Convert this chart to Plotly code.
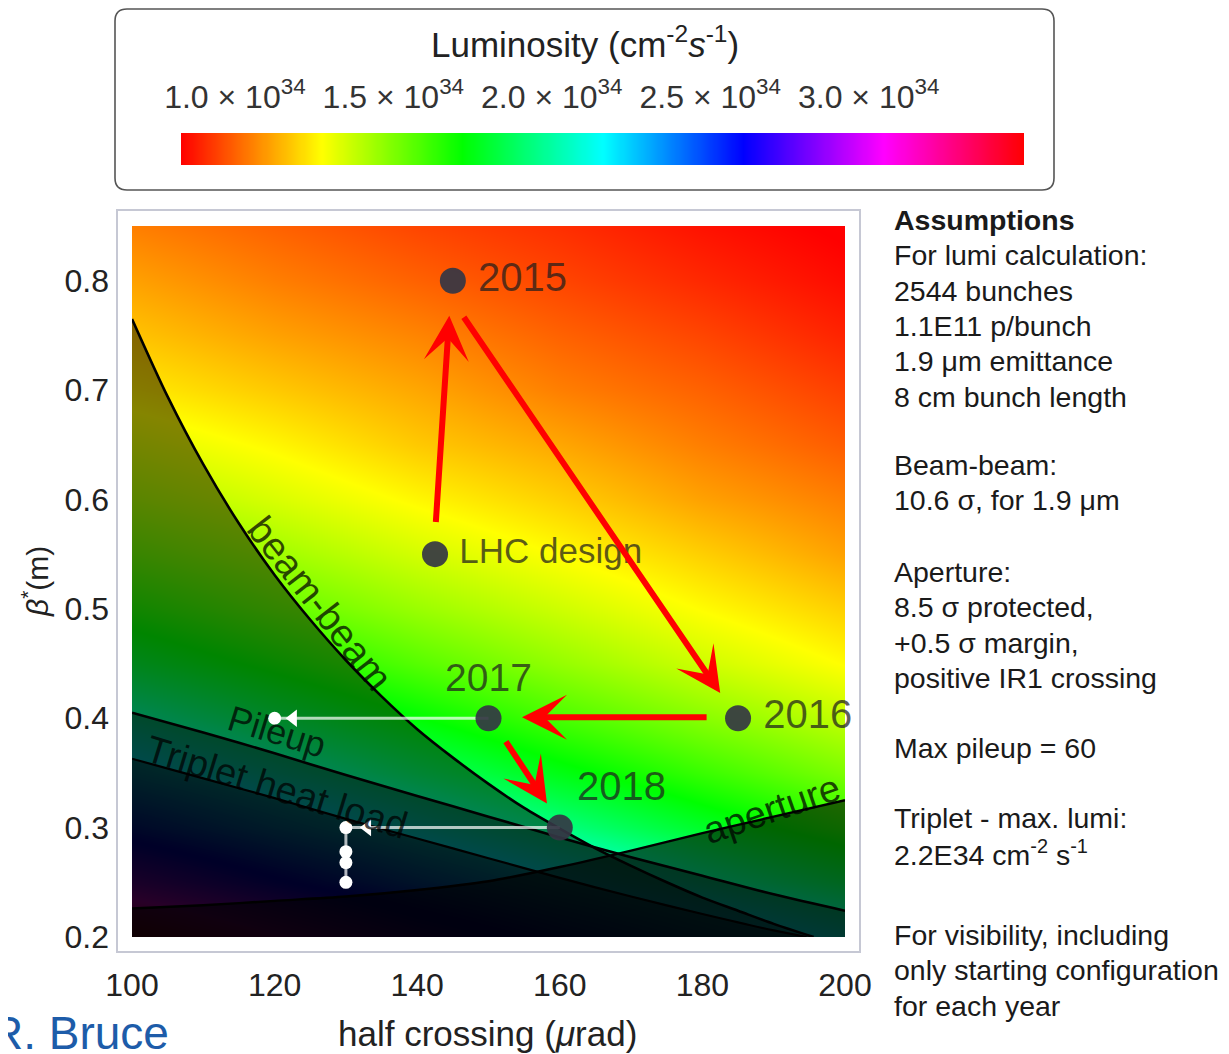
import numpy as np
import plotly.graph_objects as go

W, H = 1229, 1054
PAGE_OFFSET = 8  # the page adds an 8px body margin around the figure
FONT = "Liberation Sans, Arial, Helvetica, sans-serif"

# ------------------------------------------------------------------ data
half_crossing_grid = [100, 120, 140, 160, 180, 200]
beta_grid = [0.20, 0.25, 0.30, 0.35, 0.40, 0.45, 0.50, 0.55, 0.60, 0.65, 0.70, 0.75, 0.80, 0.85]
# luminosity in units of 1e34 cm^-2 s^-1 (rows: beta*, columns: half crossing)
lumi_grid = [
    [3.41, 3.07, 2.77, 2.52, 2.30, 2.11],
    [2.89, 2.63, 2.39, 2.18, 2.00, 1.85],
    [2.51, 2.30, 2.11, 1.94, 1.79, 1.65],
    [2.22, 2.05, 1.89, 1.75, 1.62, 1.50],
    [2.00, 1.85, 1.72, 1.59, 1.48, 1.38],
    [1.81, 1.69, 1.57, 1.46, 1.36, 1.27],
    [1.66, 1.55, 1.45, 1.36, 1.27, 1.19],
    [1.53, 1.44, 1.35, 1.27, 1.19, 1.11],
    [1.42, 1.34, 1.26, 1.19, 1.11, 1.05],
    [1.33, 1.26, 1.18, 1.12, 1.05, 0.99],
    [1.24, 1.18, 1.12, 1.05, 1.00, 0.94],
    [1.17, 1.11, 1.06, 1.00, 0.95, 0.89],
    [1.11, 1.05, 1.00, 0.95, 0.90, 0.85],
    [1.05, 1.00, 0.95, 0.91, 0.86, 0.82],
]
lumi_range = [0.83, 3.49]
lumi_tickvals = [1.0, 1.5, 2.0, 2.5, 3.0]
lumi_ticktext = ["1.0 × 10<sup>34</sup>", "1.5 × 10<sup>34</sup>", "2.0 × 10<sup>34</sup>",
                 "2.5 × 10<sup>34</sup>", "3.0 × 10<sup>34</sup>"]

x_range = [100, 200]
beta_range = [0.2, 0.85]
x_ticks = [100, 120, 140, 160, 180, 200]
beta_ticks = [0.2, 0.3, 0.4, 0.5, 0.6, 0.7, 0.8]

beambeam_x = [100, 105, 110, 115, 120, 125, 130, 135, 140, 145, 150, 155, 160, 165, 170, 175, 180, 185, 190, 195.6]
beambeam_beta = [0.765, 0.694, 0.632, 0.578, 0.531, 0.490, 0.453, 0.420, 0.390, 0.364, 0.340, 0.318,
                 0.299, 0.281, 0.265, 0.250, 0.236, 0.224, 0.212, 0.200]
pileup_x = [100, 110, 120, 130, 140, 150, 160, 170, 180, 190, 200]
pileup_beta = [0.405, 0.387, 0.368, 0.348, 0.329, 0.310, 0.291, 0.273, 0.256, 0.239, 0.224]
triplet_x = [100, 110, 120, 130, 140, 150, 160, 170, 180, 190, 194.6]
triplet_beta = [0.363, 0.345, 0.327, 0.308, 0.290, 0.272, 0.254, 0.237, 0.221, 0.206, 0.200]
aperture_x = [100, 110, 120, 130, 140, 150, 160, 170, 180, 190, 200]
aperture_beta = [0.226, 0.229, 0.233, 0.237, 0.243, 0.251, 0.264, 0.279, 0.295, 0.310, 0.325]

config_names = ["2015", "LHC design", "2016", "2017", "2018"]
config_x = [145, 142.5, 185, 150, 160]
config_beta = [0.80, 0.55, 0.40, 0.40, 0.30]
config_textpos = ["middle right", "middle right", "middle right", "top center", "top right"]
config_textsize = [40, 35, 40, 39, 40]

level2017_x = [150, 120]
level2017_beta = [0.40, 0.40]
level2017_arrow_x = [122.6]
level2017_end_x = [120]
level2018_x = [160, 130, 130]
level2018_beta = [0.30, 0.30, 0.25]
level2018_arrow_x = [133]
level2018_steps_beta = [0.30, 0.278, 0.268, 0.25]

arrow_tail_x = [142.6, 146.4, 180.8, 152.3]
arrow_tail_beta = [0.578, 0.768, 0.401, 0.380]
arrow_head_x = [144.5, 182.5, 154.7, 158.2]
arrow_head_beta = [0.768, 0.423, 0.401, 0.322]

assumption_blocks = [
    (220, ["<b>Assumptions</b>", "For lumi calculation:", "2544 bunches", "1.1E11 p/bunch",
           "1.9 μm emittance", "8 cm bunch length"]),
    (465, ["Beam-beam:", "10.6 σ, for 1.9 μm"]),
    (572, ["Aperture:", "8.5 σ protected,", "+0.5 σ margin,", "positive IR1 crossing"]),
    (748, ["Max pileup = 60"]),
    (818, ["Triplet - max. lumi:", "2.2E34 cm<sup>-2</sup> s<sup>-1</sup>"]),
    (935, ["For visibility, including", "only starting configuration", "for each year"]),
]


def px(x):
    return (x - PAGE_OFFSET) / W


def py(y):
    return 1 - (y - PAGE_OFFSET) / H


hue_scale = [[0.0, "#ff0000"], [1 / 6, "#ffff00"], [2 / 6, "#00ff00"], [3 / 6, "#00ffff"],
             [4 / 6, "#0000ff"], [5 / 6, "#ff00ff"], [1.0, "#ff0000"]]

fig = go.Figure()

# main luminosity map
fig.add_trace(go.Heatmap(x=half_crossing_grid, y=beta_grid, z=lumi_grid, zsmooth="best",
                         colorscale=hue_scale, zmin=lumi_range[0], zmax=lumi_range[1],
                         showscale=False, hoverinfo="skip"))

# excluded regions (darkened below each limit curve) with their boundary lines
for xs, ys, alpha, w in [(beambeam_x, beambeam_beta, 0.48, 2.6),
                         (pileup_x, pileup_beta, 0.45, 2.6),
                         (triplet_x, triplet_beta, 0.45, 2.2),
                         (aperture_x, aperture_beta, 0.6, 2.4)]:
    fig.add_trace(go.Scatter(x=xs, y=ys, mode="lines", fill="tozeroy",
                             fillcolor=f"rgba(0,0,0,{alpha})",
                             line=dict(color="black", width=w, shape="spline", smoothing=0.8),
                             hoverinfo="skip", showlegend=False))

# levelling paths (white)
wl = "rgba(255,255,255,0.7)"
fig.add_trace(go.Scatter(x=level2017_x, y=level2017_beta, mode="lines", line=dict(color=wl, width=3),
                         hoverinfo="skip", showlegend=False))
fig.add_trace(go.Scatter(x=level2018_x, y=level2018_beta, mode="lines", line=dict(color=wl, width=3),
                         hoverinfo="skip", showlegend=False))
fig.add_trace(go.Scatter(x=level2017_arrow_x + level2018_arrow_x,
                         y=[level2017_beta[0], level2018_beta[0]], mode="markers",
                         marker=dict(symbol="triangle-left", size=15, color="white"),
                         hoverinfo="skip", showlegend=False))
fig.add_trace(go.Scatter(x=level2017_end_x + [level2018_x[-1]] * len(level2018_steps_beta),
                         y=[level2017_beta[-1]] + level2018_steps_beta, mode="markers",
                         marker=dict(symbol="circle", size=13, color="white"),
                         hoverinfo="skip", showlegend=False))

# configurations
label_text = ["\u2009" + n if p == "middle right" else n for n, p in zip(config_names, config_textpos)]
fig.add_trace(go.Scatter(x=config_x, y=config_beta, mode="markers+text", text=label_text,
                         textposition=config_textpos, cliponaxis=False,
                         textfont=dict(family=FONT, size=config_textsize, color="rgba(30,30,30,0.72)"),
                         marker=dict(size=26, color="rgba(52,54,68,0.92)"),
                         hoverinfo="skip", showlegend=False))

# colour legend bar (separate axis)
bar_levels = np.linspace(lumi_range[0], lumi_range[1], 400)
fig.add_trace(go.Heatmap(x=bar_levels, y=[0], z=[bar_levels], zsmooth="best", colorscale=hue_scale,
                         zmin=lumi_range[0], zmax=lumi_range[1], showscale=False,
                         xaxis="x2", yaxis="y2", hoverinfo="skip"))

annotations = []
for tx, ty, hx, hy in zip(arrow_tail_x, arrow_tail_beta, arrow_head_x, arrow_head_beta):
    annotations.append(dict(x=hx, y=hy, ax=tx, ay=ty, xref="x", yref="y", axref="x", ayref="y",
                            text="", showarrow=True, arrowhead=3, arrowsize=1.25, arrowwidth=6,
                            arrowcolor="#ff0000", standoff=0, startstandoff=0))

line_label_color = "rgba(0,0,0,0.72)"
for txt, lx, ly, ang, sz in [("beam-beam", 126.4, 0.505, 52, 39), ("Pileup", 120.3, 0.388, 17, 36),
                             ("Triplet heat load", 120.2, 0.337, 17, 38),
                             ("aperture", 189.8, 0.317, -19, 38)]:
    annotations.append(dict(x=lx, y=ly, xref="x", yref="y", text=txt, textangle=ang, showarrow=False,
                            xanchor="center", yanchor="middle",
                            font=dict(family=FONT, size=sz, color=line_label_color)))

annotations.append(dict(x=px(585), y=py(42), xref="paper", yref="paper", xanchor="center",
                        yanchor="middle",
                        text="Luminosity (cm<sup>-2</sup><i>s</i><sup>-1</sup>)", showarrow=False,
                        font=dict(family=FONT, size=35, color="#222")))
annotations.append(dict(x=px(487), y=py(1033), xref="paper", yref="paper", xanchor="center",
                        yanchor="middle",
                        text="half crossing (<i>μ</i>rad)", showarrow=False,
                        font=dict(family=FONT, size=35, color="#222")))
annotations.append(dict(x=px(35), y=py(582), xref="paper", yref="paper", textangle=-90,
                        xanchor="center", yanchor="middle",
                        text="<i>β</i><sup>*</sup>(m)", showarrow=False,
                        font=dict(family=FONT, size=30, color="#222")))
annotations.append(dict(x=px(-12), y=py(1033), xref="paper", yref="paper", xanchor="left",
                        yanchor="middle", text="R. Bruce", showarrow=False,
                        font=dict(family=FONT, size=46, color="#1d5ca9")))

for y0, lines in assumption_blocks:
    for i, t in enumerate(lines):
        annotations.append(dict(x=px(892), y=py(y0 + i * 35.3), xref="paper", yref="paper",
                                xanchor="left", yanchor="middle", text=t, showarrow=False,
                                font=dict(family=FONT, size=28.5, color="#1a1a1a")))

# legend box with rounded corners
bx0, bx1, by0, by1, r = 115, 1054, 9, 190, 12
rx, ry = r / W, r / H
X0, X1, YT, YB = px(bx0), px(bx1), py(by0), py(by1)
box_path = (f"M {X0+rx},{YT} L {X1-rx},{YT} Q {X1},{YT} {X1},{YT-ry} L {X1},{YB+ry} "
            f"Q {X1},{YB} {X1-rx},{YB} L {X0+rx},{YB} Q {X0},{YB} {X0},{YB+ry} "
            f"L {X0},{YT-ry} Q {X0},{YT} {X0+rx},{YT} Z")
shapes = [
    dict(type="path", path=box_path, xref="paper", yref="paper",
         line=dict(color="#555555", width=1.6)),
    dict(type="rect", xref="paper", yref="paper", x0=px(117), x1=px(860), y0=py(952), y1=py(210),
         line=dict(color="#c6c8d4", width=2), layer="below"),
]

fig.update_layout(
    width=W, height=H, margin=dict(l=0, r=0, t=0, b=0, autoexpand=False),
    paper_bgcolor="white", plot_bgcolor="white", showlegend=False,
    font=dict(family=FONT, color="#222"),
    xaxis=dict(domain=[px(132), px(845)], range=x_range, tickvals=x_ticks, ticks="",
               showgrid=False, zeroline=False, showline=False, tickfont=dict(size=32, color="#222"),
               ticklabelstandoff=26, anchor="y", automargin=False),
    yaxis=dict(domain=[py(937), py(226)], range=beta_range, tickvals=beta_ticks,
               ticktext=[f"{v:.1f}" for v in beta_ticks], ticks="",
               showgrid=False, zeroline=False, showline=False, tickfont=dict(size=32, color="#222"),
               ticklabelstandoff=22, anchor="x", automargin=False),
    xaxis2=dict(domain=[px(181), px(1024)], range=lumi_range, tickvals=lumi_tickvals,
                ticktext=lumi_ticktext, side="top", ticks="", showgrid=False, zeroline=False,
                showline=False, tickfont=dict(size=32, color="#333"), ticklabelstandoff=18,
                anchor="y2", automargin=False),
    yaxis2=dict(domain=[py(165), py(133)], range=[-0.5, 0.5], visible=False, anchor="x2",
                automargin=False),
    annotations=annotations, shapes=shapes,
)

fig.write_html("out.html")
